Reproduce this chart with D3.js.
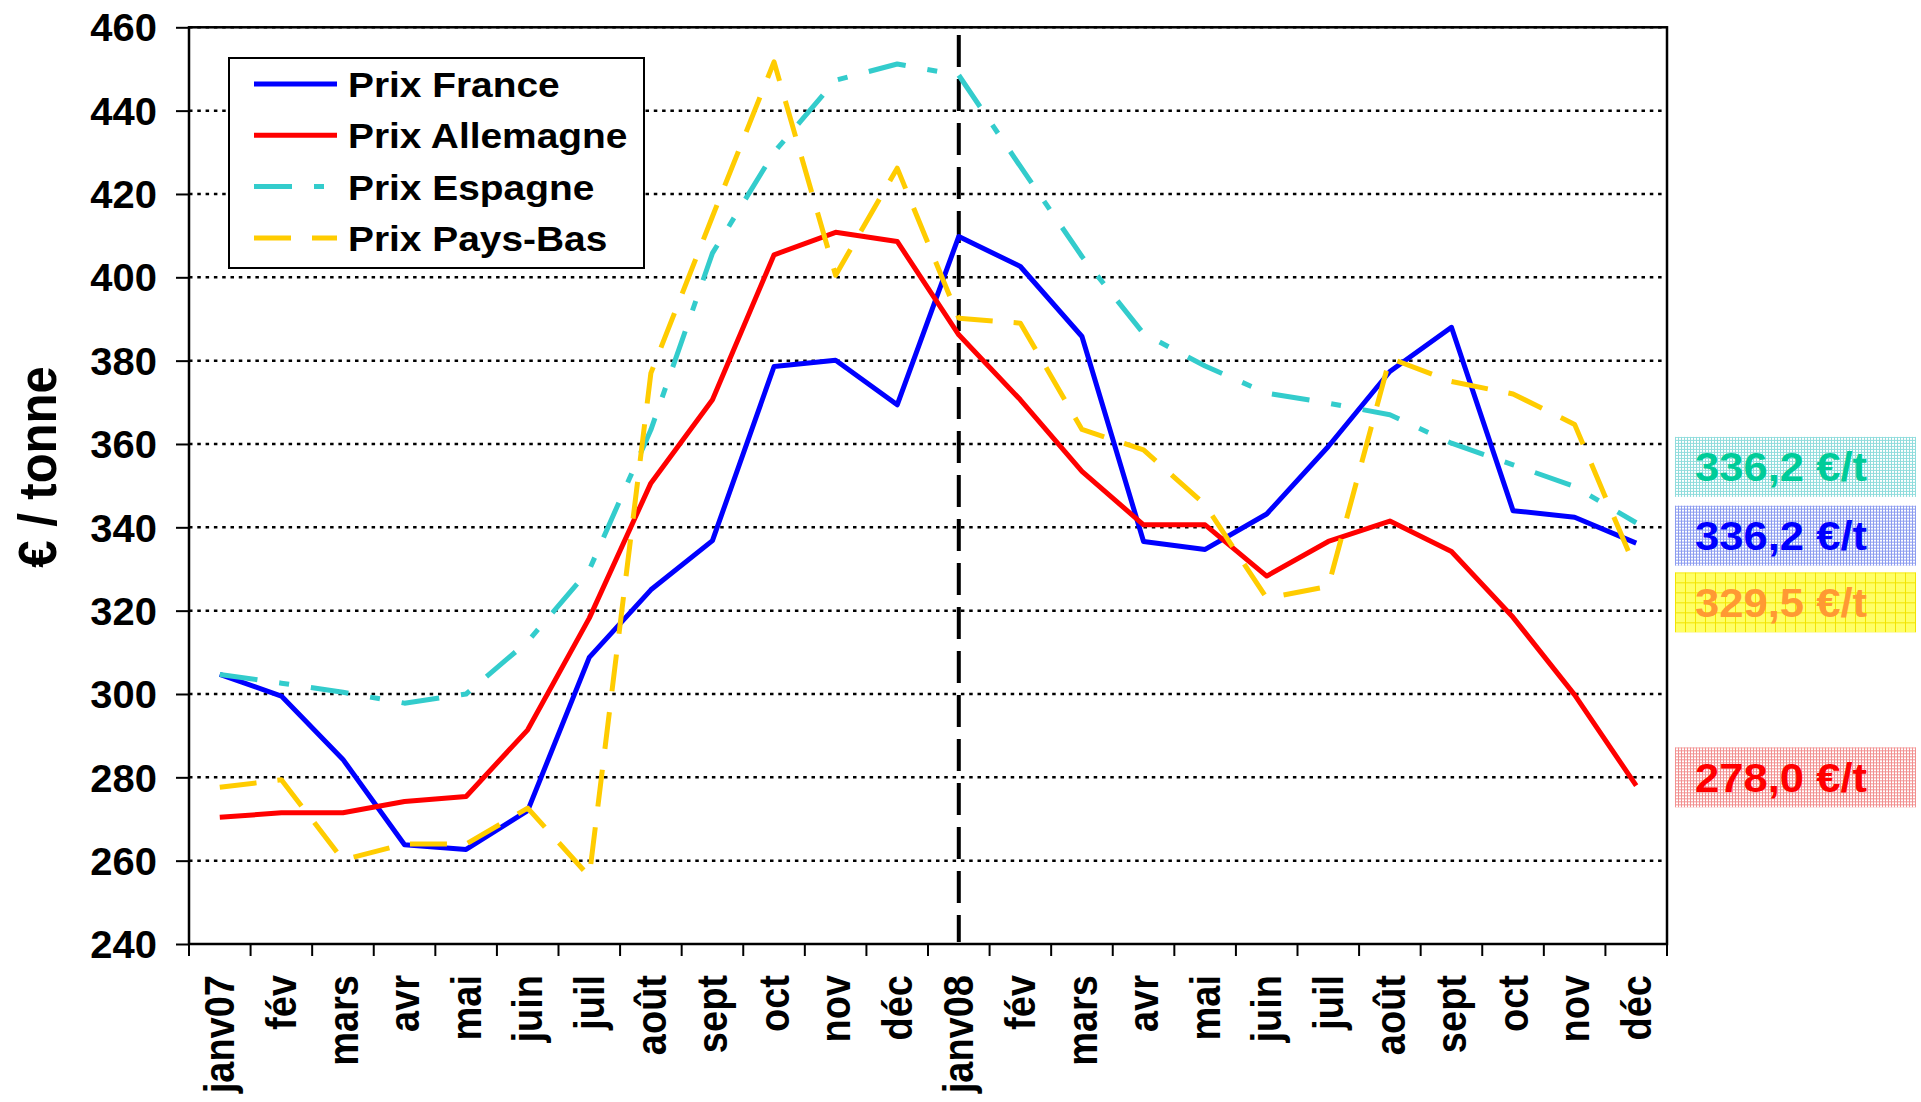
<!DOCTYPE html>
<html>
<head>
<meta charset="utf-8">
<script src="https://cdn.jsdelivr.net/npm/d3@7"></script>
<style>
  body { margin: 0; background: #fff; }
  text { font-family: "Liberation Sans", Arial, sans-serif; font-weight: bold; }
</style>
</head>
<body>
<script>
// mois (2007 puis 2008)
var months = ["janv07","fév","mars","avr","mai","juin","juil","août","sept","oct","nov","déc",
              "janv08","fév","mars","avr","mai","juin","juil","août","sept","oct","nov","déc"];

var prixFrance    = [304.7,299.5,284.3,263.8,262.7,272.0,308.8,325.0,336.8,378.6,380.1,369.4,
                     409.8,402.6,385.8,336.6,334.7,343.2,359.4,377.4,388.0,344.0,342.4,336.2];
var prixAllemagne = [270.4,271.5,271.5,274.2,275.4,291.4,318.2,350.6,370.6,405.4,410.8,408.6,
                     386.2,370.6,353.4,340.6,340.6,328.3,336.6,341.5,334.2,318.4,299.8,278.0];
var prixEspagne   = [304.7,302.6,300.4,297.8,300.0,312.6,329.8,363.4,405.8,430.0,447.3,451.2,
                     448.5,426.6,405.0,386.5,378.7,372.2,369.8,367.0,360.2,355.0,349.8,341.1];
var prixPaysBas   = [277.6,279.4,260.2,264.0,264.0,272.6,256.2,377.0,414.6,451.7,400.5,426.2,
                     390.2,389.0,363.5,358.6,345.4,323.0,325.8,380.6,375.0,372.0,364.7,329.8];

var yTicks = [240,260,280,300,320,340,360,380,400,420,440,460];

// étiquettes de fin (Espagne, France, Pays-Bas, Allemagne)
var finValeurs = [336.2, 336.2, 329.5, 278.0];

(function() {
  var series = [
    {name: "Prix France",    values: prixFrance,    color: "#0000FF", dash: null},
    {name: "Prix Allemagne", values: prixAllemagne, color: "#FF0000", dash: null},
    {name: "Prix Espagne",   values: prixEspagne,   color: "#33CCCC", dash: "38,22,10,22"},
    {name: "Prix Pays-Bas",  values: prixPaysBas,   color: "#FFCC00", dash: "37,21"}
  ];

  var pLeft = 189, pRight = 1667, pTop = 27.3, pBottom = 944;
  var sx = 1.08; // le texte est un peu étiré en largeur

  var svg = d3.select("body").append("svg")
    .attr("width", 1921).attr("height", 1102);

  var defs = svg.append("defs");
  function gridPattern(id, bg, stroke, size) {
    var p = defs.append("pattern").attr("id", id)
      .attr("patternUnits", "userSpaceOnUse")
      .attr("width", size).attr("height", size);
    p.append("rect").attr("width", size).attr("height", size).attr("fill", bg);
    p.append("path").attr("d", "M0,0.5H" + size + "M0.5,0V" + size)
      .attr("stroke", stroke).attr("stroke-width", 1);
  }
  gridPattern("pTeal", "#fff", "#8FDCDC", 3);
  gridPattern("pBlue", "#fff", "#8C9CF0", 3);
  gridPattern("pYellow", "#FFFF66", "#F2E400", 10);
  gridPattern("pRed", "#fff", "#F29090", 3);

  var x = d3.scaleBand().domain(d3.range(months.length)).range([pLeft, pRight]);
  var y = d3.scaleLinear().domain([240, 460]).range([pBottom, pTop]);
  var cx = function(i) { return x(i) + x.bandwidth() / 2; };

  // grille pointillée
  svg.append("g").selectAll("line")
    .data(yTicks.filter(function(d) { return d > 240; }))
    .enter().append("line")
    .attr("x1", pLeft).attr("x2", pRight)
    .attr("y1", function(d) { return y(d); }).attr("y2", function(d) { return y(d); })
    .attr("stroke", "#000").attr("stroke-width", 2.5)
    .attr("stroke-dasharray", "3.5,4.8");

  // axe Y
  var yAxis = svg.append("g")
    .attr("transform", "translate(" + pLeft + ",0)")
    .call(d3.axisLeft(y).tickValues(yTicks).tickSize(13).tickPadding(17.6));
  yAxis.select(".domain").remove();
  yAxis.selectAll("line").attr("stroke", "#000").attr("stroke-width", 2);
  yAxis.selectAll("text")
    .attr("font-size", 38).attr("fill", "#000").attr("dy", "0.36em")
    .attr("transform", "scale(1.05,1)");

  // axe X : graduations entre les mois
  var bounds = d3.range(months.length).map(function(i) { return x(i); }).concat([pRight]);
  svg.append("g").selectAll("line").data(bounds).enter().append("line")
    .attr("x1", function(d) { return d; }).attr("x2", function(d) { return d; })
    .attr("y1", pBottom).attr("y2", pBottom + 12)
    .attr("stroke", "#000").attr("stroke-width", 2);

  svg.append("g").selectAll("text").data(months).enter().append("text")
    .attr("transform", function(d, i) {
      return "translate(" + cx(i) + ",975) scale(1.1,1) rotate(-90)";
    })
    .attr("text-anchor", "end").attr("dy", "0.35em")
    .attr("font-size", 38).attr("fill", "#000")
    .text(function(d) { return d; });

  // cadre
  svg.append("rect")
    .attr("x", pLeft).attr("y", pTop)
    .attr("width", pRight - pLeft).attr("height", pBottom - pTop)
    .attr("fill", "none").attr("stroke", "#000").attr("stroke-width", 2.5);

  // séparation 2007 / 2008
  svg.append("line")
    .attr("x1", cx(12)).attr("x2", cx(12))
    .attr("y1", 35).attr("y2", pBottom - 2)
    .attr("stroke", "#000").attr("stroke-width", 4)
    .attr("stroke-dasharray", "32,12");

  // courbes
  var line = d3.line()
    .x(function(d, i) { return cx(i); })
    .y(function(d) { return y(d); });

  svg.append("g").selectAll("path").data(series).enter().append("path")
    .attr("d", function(s) { return line(s.values); })
    .attr("fill", "none")
    .attr("stroke", function(s) { return s.color; })
    .attr("stroke-width", 5)
    .attr("stroke-linejoin", "round")
    .attr("stroke-dasharray", function(s) { return s.dash; });

  // légende
  var leg = svg.append("g");
  leg.append("rect")
    .attr("x", 229).attr("y", 58).attr("width", 415).attr("height", 210)
    .attr("fill", "#fff").attr("stroke", "#000").attr("stroke-width", 2);
  var items = leg.selectAll("g.item").data(series).enter().append("g")
    .attr("class", "item")
    .attr("transform", function(d, i) { return "translate(0," + (84 + i * 51.3) + ")"; });
  items.append("line")
    .attr("x1", 254).attr("x2", 337).attr("y1", 0).attr("y2", 0)
    .attr("stroke", function(s) { return s.color; })
    .attr("stroke-width", 5)
    .attr("stroke-dasharray", function(s) { return s.dash; });
  items.append("text")
    .attr("transform", "translate(348,13) scale(" + sx + ",1)")
    .attr("font-size", 36).attr("fill", "#000")
    .text(function(s) { return s.name; });

  // étiquettes de fin de période
  var labelAnchors = [354.5, 338, 322, 280];
  var labelStyle = [
    {fill: "url(#pTeal)", color: "#00CC99"},
    {fill: "url(#pBlue)", color: "#0000FF"},
    {fill: "url(#pYellow)", color: "#FF9933"},
    {fill: "url(#pRed)", color: "#FF0000"}
  ];
  var fmt = function(v) { return d3.format(".1f")(v).replace(".", ",") + " €/t"; };
  var lab = svg.append("g").selectAll("g").data(finValeurs).enter().append("g")
    .attr("transform", function(d, i) { return "translate(1675," + y(labelAnchors[i]) + ")"; });
  lab.append("rect")
    .attr("x", 0).attr("y", -30).attr("width", 241).attr("height", 60)
    .attr("fill", function(d, i) { return labelStyle[i].fill; });
  lab.append("text")
    .attr("transform", "translate(20,14.5) scale(1.09,1)")
    .attr("font-size", 40)
    .attr("fill", function(d, i) { return labelStyle[i].color; })
    .text(fmt);

  // titre axe Y
  svg.append("text")
    .attr("transform", "translate(37,467) scale(" + sx + ",1) rotate(-90)")
    .attr("text-anchor", "middle").attr("dy", "0.36em")
    .attr("font-size", 49).attr("fill", "#000")
    .text("€ / tonne");
})();
</script>
</body>
</html>
